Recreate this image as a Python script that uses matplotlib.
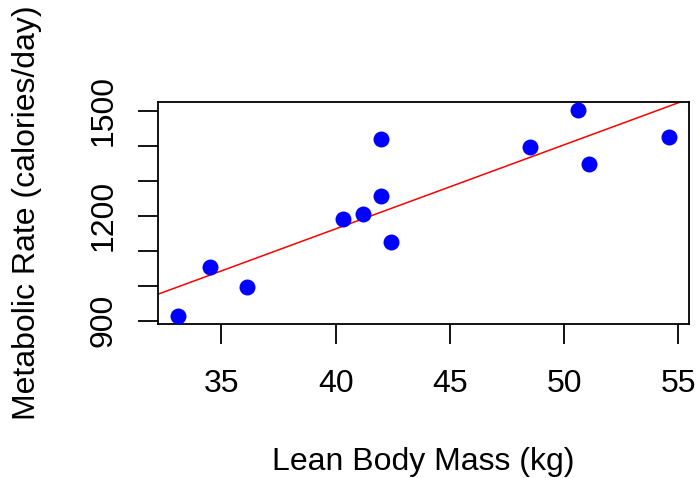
import numpy as np
import matplotlib
matplotlib.use("Agg")
import matplotlib.pyplot as plt

# lean body mass (kg) and metabolic rate (calories/day)
mass = [36.1, 54.6, 48.5, 42.0, 50.6, 42.0, 40.3, 33.1, 42.4, 34.5, 51.1, 41.2]
rate = [995, 1425, 1396, 1418, 1502, 1256, 1189, 913, 1124, 1052, 1347, 1204]

x_ticks = [35, 40, 45, 50, 55]
y_ticks = [900, 1000, 1100, 1200, 1300, 1400, 1500]
y_labels = ["900", "", "", "1200", "", "", "1500"]

plt.rcParams['font.family'] = ['Liberation Sans', 'DejaVu Sans']

fig = plt.figure(figsize=(6.98, 4.78), dpi=100)
ax = fig.add_axes([0.2268, 0.3215, 0.9871 - 0.2268, 0.7873 - 0.3215])

ax.plot(mass, rate, 'o', color='blue', markersize=11.5, markeredgewidth=0, zorder=3)

# least squares line, like abline(lm(rate ~ mass))
slope, intercept = np.polyfit(mass, rate, 1)
ax.axline((0, intercept), slope=slope, color='red', linewidth=1.1, zorder=2)

# R style 4% padding
xr = max(mass) - min(mass)
yr = max(rate) - min(rate)
ax.set_xlim(min(mass) - 0.04 * xr, max(mass) + 0.04 * xr)
ax.set_ylim(min(rate) - 0.04 * yr, max(rate) + 0.04 * yr)

ax.set_xticks(x_ticks)
ax.set_xticklabels([str(t) for t in x_ticks])
ax.set_yticks(y_ticks)
ax.set_yticklabels(y_labels, rotation=90, va='center')

for s in ax.spines.values():
    s.set_linewidth(1.3)
ax.tick_params(axis='both', length=14.4, width=1.3, labelsize=23)
ax.tick_params(axis='x', pad=18)
ax.tick_params(axis='y', pad=14)

ax.set_xlabel("Lean Body Mass (kg)", fontsize=23, labelpad=34)
ax.set_ylabel("Metabolic Rate (calories/day)", fontsize=23, labelpad=34)

fig.savefig("out.png", dpi=100)
